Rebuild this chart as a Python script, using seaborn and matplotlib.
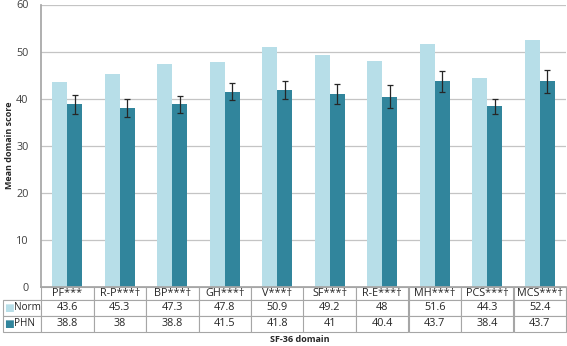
import matplotlib.pyplot as plt
import seaborn as sns
import pandas as pd

domains = ["PF***", "R-P***†", "BP***†", "GH***†", "V***†", "SF***†",
           "R-E***†", "MH***†", "PCS***†", "MCS***†"]
norm = [43.6, 45.3, 47.3, 47.8, 50.9, 49.2, 48, 51.6, 44.3, 52.4]
phn = [38.8, 38, 38.8, 41.5, 41.8, 41, 40.4, 43.7, 38.4, 43.7]
phn_err = [2.0, 1.9, 1.8, 1.75, 1.85, 2.2, 2.4, 2.2, 1.6, 2.4]
series = ["Norm", "PHN"]
colors = ["#b7dee8", "#31859c"]

df = pd.DataFrame({
    "domain": domains * 2,
    "group": ["Norm"] * len(domains) + ["PHN"] * len(domains),
    "score": norm + phn,
})

sns.set_theme(style="white")
plt.rcParams["font.family"] = ["Open Sans", "DejaVu Sans"]

fig = plt.figure(figsize=(5.67, 3.46), dpi=100)
W, H = 567, 346
ax = fig.add_axes([41 / W, 1 - 287 / H, 525 / W, 282.5 / H])

sns.barplot(data=df, x="domain", y="score", hue="group", palette=colors,
            width=0.57, errorbar=None, legend=False, ax=ax, saturation=1,
            linewidth=0)

# error bars on the PHN bars
xs = [b.get_x() + b.get_width() / 2 for b in ax.containers[1]]
ax.errorbar(xs, phn, yerr=phn_err, fmt="none", ecolor="#262626",
            elinewidth=0.9, capsize=2.5, capthick=0.9)

ax.set_ylim(0, 60)
ax.set_xlim(-0.5, len(domains) - 0.5)
ax.set_yticks(range(0, 61, 10))
ax.yaxis.grid(True, color="#c4c4c4", lw=0.9)
ax.set_axisbelow(True)
for s in ["top", "right"]:
    ax.spines[s].set_visible(False)
for s in ["left", "bottom"]:
    ax.spines[s].set_color("#a6a6a6")
ax.tick_params(axis="y", length=0, labelsize=7.8, colors="#404040", pad=9)
ax.set_xticks([])
ax.set_xlabel("")
ax.set_ylabel("")
fig.text(10 / W, 1 - 145 / H, "Mean domain score", fontsize=6.5,
         fontweight="bold", rotation=90, ha="center", va="center")

# data table under the plot; first column holds the series labels
cell_text = [[""] + [f"{v:g}" for v in norm], [""] + [f"{v:g}" for v in phn]]
ncol = len(domains)
h_hdr, h_row = 13 / 282.5, 16 / 282.5
lbl_w = 38 / 525
tot_h = h_hdr + 2 * h_row
tab = ax.table(cellText=cell_text, colLabels=[""] + domains, cellLoc="center",
               bbox=[-lbl_w, -tot_h, 1 + lbl_w, tot_h])
tab.auto_set_font_size(False)
for (r, c), cell in tab.get_celld().items():
    cell.set_edgecolor("#a6a6a6")
    cell.set_linewidth(0.8)
    cell.get_text().set_fontsize(7.8)
    cell.get_text().set_color("#262626")
    cell.set_width(lbl_w if c == 0 else 1 / ncol)
    cell.set_height(h_hdr if r == 0 else h_row)
    if r == 0 and c == 0:
        cell.visible_edges = "B"

for i, (name, col) in enumerate(zip(series, colors)):
    y = -(h_hdr + h_row * (i + 0.5))
    ax.text(-lbl_w + 1 / 525, y, "■", color=col, fontsize=7.5, va="center",
            ha="left", transform=ax.transAxes, family=["DejaVu Sans"])
    ax.text(-lbl_w + 11 / 525, y, name, color="#262626", fontsize=7.2,
            va="center", ha="left", transform=ax.transAxes)

fig.text(300 / W, 1 - 339 / H, "SF-36 domain", fontsize=6.5,
         fontweight="bold", ha="center", va="center")

fig.savefig("out.png", dpi=100)
